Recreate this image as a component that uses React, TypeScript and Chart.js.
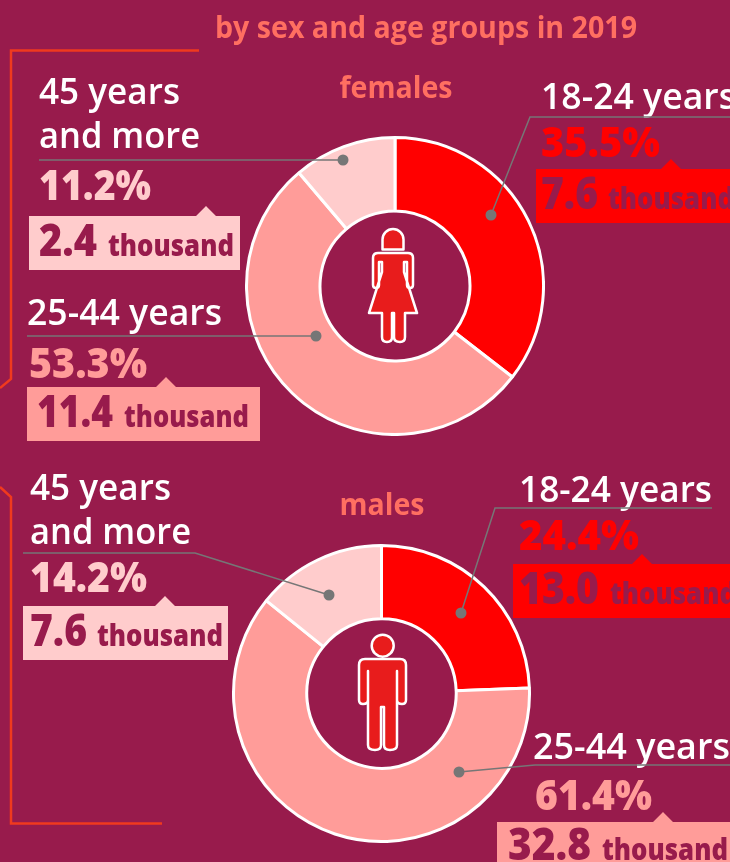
import React, { useEffect, useRef } from "react";
import { Chart, registerables } from "chart.js";

Chart.register(...registerables);

const title = "by sex and age groups in 2019";
const groups = ["18-24 years", "25-44 years", "45 years and more"];
const femaleShares = [35.5, 53.3, 11.2];
const femaleThousands = ["7.6", "11.4", "2.4"];
const maleShares = [24.4, 61.4, 14.2];
const maleThousands = ["13.0", "32.8", "7.6"];
const unit = "thousand";
const sliceColors = ["#FF0000", "#FF9C99", "#FFCCCC"];

const BG = "#981B4C";
const TITLE = "#FF6F61";
const FRAME = "#F03A1E";
const GREY = "#767676";
const FONT = "'Open Sans', 'Noto Sans', sans-serif";

function Donut({ values, left, top, size }: { values: number[]; left: number; top: number; size: number }) {
  const ref = useRef<HTMLCanvasElement>(null);
  useEffect(() => {
    const chart = new Chart(ref.current!, {
      type: "doughnut",
      data: {
        labels: groups,
        datasets: [{ data: values, backgroundColor: sliceColors, borderColor: "#FFFFFF", borderWidth: 3, hoverOffset: 0 }],
      },
      options: {
        animation: false,
        responsive: false,
        maintainAspectRatio: false,
        cutout: "50.5%",
        layout: { padding: 0 },
        plugins: { legend: { display: false }, tooltip: { enabled: false } },
      },
    });
    return () => chart.destroy();
  }, []);
  return <canvas ref={ref} width={size} height={size} style={{ position: "absolute", left, top, width: size, height: size }} />;
}

function T({ x, y, s, w, fill = "#FFFFFF", weight = 600, size = 36, anchor }: any) {
  return (
    <text x={x} y={y} fill={fill} fontWeight={weight} fontSize={size} textAnchor={anchor} fontFamily={FONT}
      {...(w ? { textLength: w, lengthAdjust: "spacingAndGlyphs" } : {})}>{s}</text>
  );
}

function Callout({ color, label, lines, share, value, px, py, pw, box, tip, vx, vw, ux, uw, by }: any) {
  return (
    <g>
      {label}
      <T x={px} y={py} s={share + "%"} w={pw} fill={color} weight={800} size={42} />
      <path d={`M${box[0]} ${box[1]}H${tip - 10}L${tip} ${box[1] - 10}L${tip + 10} ${box[1]}H${box[2]}V${box[3]}H${box[0]}Z`} fill={color} />
      <T x={vx} y={by} s={value} w={vw} fill={BG} weight={800} size={45} />
      <T x={ux} y={by} s={unit} w={uw} fill={BG} weight={800} size={30} />
      <path d={lines} fill="none" stroke={GREY} strokeWidth={1.5} />
    </g>
  );
}

function Dot({ x, y }: { x: number; y: number }) {
  return <circle cx={x} cy={y} r={5.5} fill={GREY} />;
}

export default function App() {
  useEffect(() => {
    document.body.style.margin = "0";
  }, []);
  return (
    <div style={{ position: "relative", width: 730, height: 862, background: BG, overflow: "hidden" }}>
      <Donut values={femaleShares} left={245} top={136} size={300} />
      <Donut values={maleShares} left={232} top={544} size={299} />
      <svg width={730} height={862} style={{ position: "absolute", left: 0, top: 0 }}>
        <T x={426} y={38} s={title} w={422} fill={TITLE} weight={700} size={30} anchor="middle" />
        <T x={396} y={98} s="females" w={113} fill={TITLE} weight={700} size={30} anchor="middle" />
        <T x={382} y={515} s="males" w={85} fill={TITLE} weight={700} size={30} anchor="middle" />

        <path d="M199 50.5H11V379L0 388" fill="none" stroke={FRAME} strokeWidth={2.5} />
        <path d="M0 487L11 497V823.5H162" fill="none" stroke={FRAME} strokeWidth={2.5} />

        {/* females */}
        <Callout color={sliceColors[2]} share={femaleShares[2]} value={femaleThousands[2]}
          label={<><T x={39} y={104} s="45 years" w={141} /><T x={39} y={148} s="and more" w={161} /></>}
          lines="M39 160H343" px={39} py={200} pw={112} box={[29, 216, 240, 270]} tip={206}
          vx={39} vw={58} ux={108} uw={126} by={256} />
        <Callout color={sliceColors[1]} share={femaleShares[1]} value={femaleThousands[1]}
          label={<T x={27} y={325} s={groups[1]} w={195} />}
          lines="M27 336H316" px={29} py={378} pw={118} box={[27, 387, 260, 441]} tip={166}
          vx={37} vw={76} ux={124} uw={125} by={427} />
        <Callout color={sliceColors[0]} share={femaleShares[0]} value={femaleThousands[0]}
          label={<T x={541} y={109} s={groups[0]} w={195} />}
          lines="M730 117H530L491 215" px={541} py={157} pw={119} box={[536, 169, 740, 223]} tip={671}
          vx={541} vw={57} ux={608} uw={126} by={209} />
        {[[343, 160], [316, 336], [491, 215]].map(([x, y]) => <Dot key={x} x={x} y={y} />)}

        {/* males */}
        <Callout color={sliceColors[2]} share={maleShares[2]} value={maleThousands[2]}
          label={<><T x={30} y={500} s="45 years" w={141} /><T x={30} y={544} s="and more" w={161} /></>}
          lines="M23 553H195L329 595" px={30} py={592} pw={117} box={[23, 606, 228, 660]} tip={165}
          vx={30} vw={57} ux={97} uw={126} by={646} />
        <Callout color={sliceColors[0]} share={maleShares[0]} value={maleThousands[0]}
          label={<T x={519} y={502} s={groups[0]} w={193} />}
          lines="M712 508H495L461 613" px={519} py={550} pw={120} box={[513, 564, 740, 618]} tip={642}
          vx={519} vw={80} ux={610} uw={126} by={604} />
        <Callout color={sliceColors[1]} share={maleShares[1]} value={maleThousands[1]}
          label={<T x={533} y={759} s={groups[1]} w={197} />}
          lines="M730 765H535L459 772" px={535} py={810} pw={117} box={[497, 822, 740, 870]} tip={663}
          vx={508} vw={83} ux={602} uw={126} by={860} />
        {[[329, 595], [461, 613], [459, 772]].map(([x, y]) => <Dot key={x} x={x} y={y} />)}

        {/* pictograms */}
        <g fill="#E81C1C" stroke="#FFFFFF" strokeWidth={2.5} strokeLinejoin="round">
          <path d="M382.5 249.5V239.5A10.5 10.5 0 0 1 403.5 239.5V249.5Z" />
          <path d="M378 253H408Q413 253 413 258V285Q413 288 410 288Q407 288 407 285V262H404V272L417 313H405V337Q405 342 400 342Q394 342 394 337V313H392V337Q392 342 387 342Q382 342 382 337V313H369L382 272V262H379V285Q379 288 376 288Q373 288 373 285V258Q373 253 378 253Z" />
          <circle cx={382.7} cy={645.7} r={11} />
          <path d="M365 659H400Q406 659 406 665V700Q406 704 402 704Q397 704 397 700V671V745Q397 750 390 750Q384 750 384 745V707H381V745Q381 750 375 750Q368 750 368 745V671V700Q368 704 363 704Q359 704 359 700V665Q359 659 365 659Z" />
        </g>
      </svg>
    </div>
  );
}
